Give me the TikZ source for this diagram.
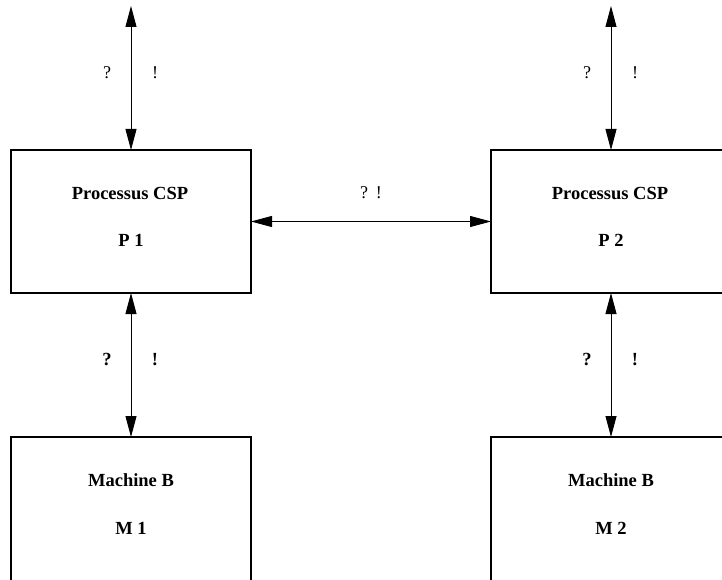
\documentclass[tikz,border=0pt]{standalone}
\usepackage{fontspec}
\setmainfont{Liberation Serif}
\usetikzlibrary{arrows.meta}
\begin{document}
\begin{tikzpicture}[x=1pt,y=-1pt,
  box/.style={draw,line width=1.6pt,minimum width=240pt,inner sep=0pt,outer sep=0pt},
  link/.style={line width=0.9pt,{Triangle[length=21pt,width=11pt]}-{Triangle[length=21pt,width=11pt]}},
  lbl/.style={font=\fontsize{18}{21}\selectfont,inner sep=0pt},
  blbl/.style={font=\fontsize{18.5}{22}\selectfont\bfseries,inner sep=0pt}]
\useasboundingbox (0,0) rectangle (722,580);
\clip (0,0) rectangle (722,580);
% boxes
\node[box,minimum height=143pt] (P1) at (131,221.5) {};
\node[box,minimum height=143pt] (P2) at (611,221.5) {};
\node[box,minimum height=170pt] (M1) at (131,522) {};
\node[box,minimum height=170pt] (M2) at (611,522) {};
% box texts
\node[blbl] (P1a) at (130,193) {Processus CSP};
\node[blbl] (P1b) at (131,240) {P 1};
\node[blbl] (P2a) at (610,193) {Processus CSP};
\node[blbl] (P2b) at (611,240) {P 2};
\node[blbl] (M1a) at (131,480) {Machine B};
\node[blbl] (M1b) at (131,528) {M 1};
\node[blbl] (M2a) at (611,480) {Machine B};
\node[blbl] (M2b) at (611,528) {M 2};
% free ends
\coordinate (T1) at (131,6);
\coordinate (T2) at (611,6);
% connectors
\draw[link] (T1) -- (P1.north);
\draw[link] (T2) -- (P2.north);
\draw[link] (P1.south) -- (M1.north);
\draw[link] (P2.south) -- (M2.north);
\draw[link] (P1.east) -- (P2.west);
% labels
\node[lbl] (q1) at (107,73) {?};
\node[lbl] (e1) at (155,73) {!};
\node[lbl] (q2) at (587,73) {?};
\node[lbl] (e2) at (635,73) {!};
\node[blbl] (q3) at (107,360) {?};
\node[blbl] (e3) at (155,360) {!};
\node[blbl] (q4) at (587,360) {?};
\node[blbl] (e4) at (635,360) {!};
\node[lbl] (qm) at (371,193) {?\hspace{8pt}!};
\end{tikzpicture}
\end{document}
